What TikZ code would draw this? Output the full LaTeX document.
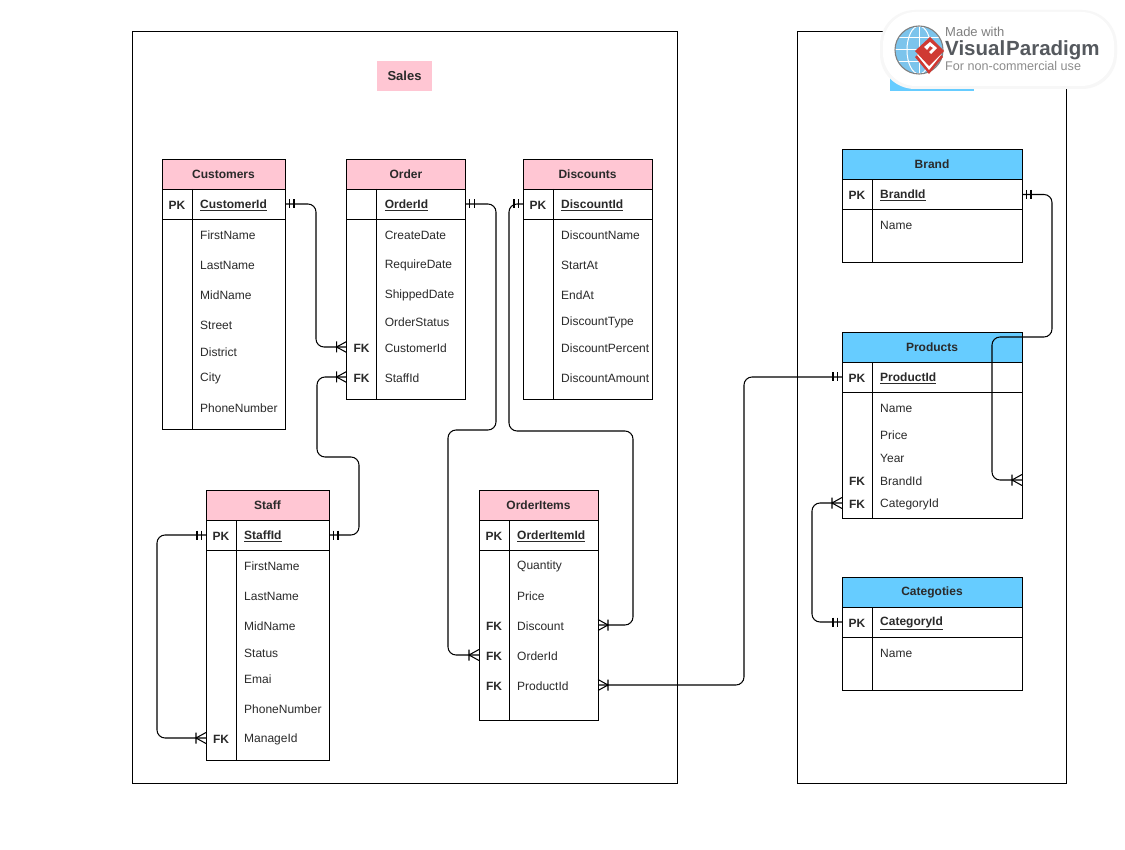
\documentclass[tikz,border=0pt]{standalone}
\usepackage{fontspec}
\setmainfont{Liberation Sans}
\definecolor{pinkhd}{HTML}{FFC6D3}
\definecolor{bluehd}{HTML}{66CCFF}
\definecolor{txt}{HTML}{2A2A2A}
\definecolor{vpred}{HTML}{CF3A33}
\definecolor{vpblue}{HTML}{7CC4EC}
\definecolor{vpgrey}{HTML}{55595E}
\newcommand\erfont{\fontsize{12}{14}\selectfont}
\tikzset{
  x=1pt,y=-1pt,
  outline/.style={draw=black,line width=0.9pt},
  box/.style={outline,inner sep=0pt,outer sep=0pt,anchor=north west},
  hdr/.style={box,minimum height=30pt,font=\erfont\bfseries,text=txt},
  fieldtext/.style={anchor=west,inner sep=0pt,yshift=-1pt,font=\erfont,text=txt},
  keytext/.style={inner sep=0pt,yshift=-1pt,font=\erfont\bfseries,text=txt},
  port/.style={inner sep=0pt,outer sep=0pt,minimum height=10pt},
  conn/.style={draw=black,line width=1.05pt,rounded corners=8pt},
  onemark/.pic={\draw[line width=1.05pt] (4.5,-4.5)--(4.5,4.5) (9,-4.5)--(9,4.5);},
  crowmark/.pic={\draw[line width=1.05pt] (0,-5.5)--(10,0)--(0,5.5) (10,-5.5)--(10,5.5);},
}
% name, x, width, y, total height, header colour, title, (PK row text)
\newcommand\ertable[8]{%
  \node[box,minimum width=#3pt,minimum height=#5pt] (#1) at (#2,#4) {};
  \node[hdr,fill=#6,minimum width=#3pt] (#1Head) at (#2,#4) {#7};
  \node[box,minimum width=#3pt,minimum height=30pt] (#1Key) at ($(#2,#4)+(0,30)$) {};
  \draw[outline] ($(#2,#4)+(30,30)$) -- ($(#2,#4)+(30,#5)$);
  \node[fieldtext] (#1KeyName) at ($(#2,#4)+(38,45)$) {\bfseries\underline{#8}};
}
% table x, y, key, field text
\newcommand\erfield[4]{%
  \node[keytext] at (#1+15,#2) {#3};
  \node[fieldtext] at (#1+38,#2) {#4};
}
% name, x, width, y
\newcommand\erport[4]{\node[port,minimum width=#3pt] (#1) at (#2+#3/2,#4) {};}
\usetikzlibrary{calc}
\begin{document}
\begin{tikzpicture}
\useasboundingbox (0,0) rectangle (1125,850);
\fill[white] (0,0) rectangle (1125,850);
% containers
\node[box,minimum width=545pt,minimum height=752pt] (salesArea) at (132,31) {};
\node[box,minimum width=269pt,minimum height=752pt] (prodArea) at (797,31) {};
\node[fill=pinkhd,inner sep=0pt,minimum width=55pt,minimum height=30pt,font=\fontsize{13}{15}\selectfont\bfseries,text=txt] (salesTitle) at (404.5,76) {Sales};
\node[fill=bluehd,inner sep=0pt,minimum width=84pt,minimum height=31pt,anchor=north west] (prodTitle) at (890,60) {};

% tables
\ertable{cust}{162}{123}{159}{270}{pinkhd}{Customers}{CustomerId}
\node[keytext] at (177,204) {PK};
\erfield{162}{234}{}{FirstName}
\erfield{162}{264}{}{LastName}
\erfield{162}{294}{}{MidName}
\erfield{162}{324}{}{Street}
\erfield{162}{351}{}{District}
\erfield{162}{377}{}{City}
\erfield{162}{407}{}{PhoneNumber}

\ertable{ord}{346.6}{118.5}{159}{240}{pinkhd}{Order}{OrderId}
\erfield{346.6}{234}{}{CreateDate}
\erfield{346.6}{264}{}{RequireDate}
\erfield{346.6}{294}{}{ShippedDate}
\erfield{346.6}{321}{}{OrderStatus}
\erfield{346.6}{347}{FK}{CustomerId}
\erfield{346.6}{377}{FK}{StaffId}
\erport{ordCust}{346.6}{118.5}{347}
\erport{ordStaff}{346.6}{118.5}{377}

\ertable{disc}{523}{129}{159}{240}{pinkhd}{Discounts}{DiscountId}
\node[keytext] at (538,204) {PK};
\erfield{523}{234}{}{DiscountName}
\erfield{523}{264}{}{StartAt}
\erfield{523}{294}{}{EndAt}
\erfield{523}{321}{}{DiscountType}
\erfield{523}{347}{}{DiscountPercent}
\erfield{523}{377}{}{DiscountAmount}

\ertable{staff}{206}{123}{490}{270}{pinkhd}{Staff}{StaffId}
\node[keytext] at (221,535) {PK};
\erfield{206}{565}{}{FirstName}
\erfield{206}{595}{}{LastName}
\erfield{206}{625}{}{MidName}
\erfield{206}{652}{}{Status}
\erfield{206}{678}{}{Emai}
\erfield{206}{708}{}{PhoneNumber}
\erfield{206}{738}{FK}{ManageId}
\erport{staffMgr}{206}{123}{738}

\ertable{item}{479}{119}{490}{230}{pinkhd}{OrderItems}{OrderItemId}
\node[keytext] at (494,535) {PK};
\erfield{479}{565}{}{Quantity}
\erfield{479}{595}{}{Price}
\erfield{479}{625}{FK}{Discount}
\erfield{479}{655}{FK}{OrderId}
\erfield{479}{685}{FK}{ProductId}
\erport{itemDisc}{479}{119}{625}
\erport{itemOrd}{479}{119}{655}
\erport{itemProd}{479}{119}{685}

\ertable{brand}{842}{180}{149.5}{112.5}{bluehd}{Brand}{BrandId}
\node[keytext] at (857,194.5) {PK};
\erfield{842}{224.5}{}{Name}

\ertable{prod}{842}{180}{332}{186}{bluehd}{Products}{ProductId}
\node[keytext] at (857,377) {PK};
\erfield{842}{407}{}{Name}
\erfield{842}{434}{}{Price}
\erfield{842}{457}{}{Year}
\erfield{842}{480}{FK}{BrandId}
\erfield{842}{503}{FK}{CategoryId}
\erport{prodBrand}{842}{180}{480}
\erport{prodCat}{842}{180}{503}

\ertable{cat}{842}{180}{577}{113}{bluehd}{Categoties}{CategoryId}
\node[keytext] at (857,622) {PK};
\erfield{842}{652}{}{Name}

% connectors
\draw[conn] (custKey.east) -| (316,280) |- (ordCust.west);
\draw[conn] (staffKey.east) -| (359,457) -| (317,420) |- (ordStaff.west);
\draw[conn] (ordKey.east) -| (496,430) -| (448,560) |- (itemOrd.west);
\draw[conn] (discKey.west) -| (509,431) -| (633,560) |- (itemDisc.east);
\draw[conn] (staffKey.west) -| (157,640) |- (staffMgr.west);
\draw[conn] (itemProd.east) -| (744,500) |- (prodKey.west);
\draw[conn] (brandKey.east) -| (1052,337) -| (992,420) |- (prodBrand.east);
\draw[conn] (catKey.west) -| (812,560) |- (prodCat.west);

% cardinality marks
\path (custKey.east) pic {onemark};
\path (ordKey.east) pic {onemark};
\path (staffKey.east) pic {onemark};
\path (brandKey.east) pic {onemark};
\path (discKey.west) pic[xscale=-1] {onemark};
\path (staffKey.west) pic[xscale=-1] {onemark};
\path (prodKey.west) pic[xscale=-1] {onemark};
\path (catKey.west) pic[xscale=-1] {onemark};
\path (ordCust.west) pic[xscale=-1] {crowmark};
\path (ordStaff.west) pic[xscale=-1] {crowmark};
\path (staffMgr.west) pic[xscale=-1] {crowmark};
\path (itemOrd.west) pic[xscale=-1] {crowmark};
\path (prodCat.west) pic[xscale=-1] {crowmark};
\path (itemDisc.east) pic {crowmark};
\path (itemProd.east) pic {crowmark};
\path (prodBrand.east) pic[xscale=-1] {crowmark};

% watermark
\fill[black!3,rounded corners=35pt] (880,10) rectangle (1117,89);
\fill[white,rounded corners=33pt] (883,12) rectangle (1114,86);
\fill[vpblue] (919,50) circle (24);
\begin{scope}
\clip (919,50) circle (24);
\draw[white,line width=1pt] (895,50)--(943,50) (895,38)--(943,38) (895,62)--(943,62) (919,26)--(919,74);
\draw[white,line width=1pt] (919,50) ellipse (12 and 24);
\end{scope}
\draw[black!50,line width=1.1pt] (919,50) circle (24);
\fill[vpred] (915,57)--(929,43)--(943,57)--(929,74)--cycle;
\fill[white] (917,55)--(929,43)--(941,55)--(929,70)--cycle;
\fill[vpred] (915,51)--(930,37)--(944,51)--(929,66)--cycle;
\fill[white] (924,47)--(930,42)--(937,48)--(931,54)--(929,52)--(933,48)--(930,46)--(927,50)--cycle;
\node[anchor=west,inner sep=0pt,text=black!50,font=\fontsize{13}{15}\selectfont] (vp1) at (945,32) {Made with};
\node[anchor=west,inner sep=0pt,text=vpgrey,font=\fontsize{20.5}{24}\selectfont\bfseries] (vp2) at (945,50) {Visual\kern1pt Paradigm};
\node[anchor=west,inner sep=0pt,text=black!45,font=\fontsize{12.6}{15}\selectfont] (vp3) at (945,66) {For non-commercial use};
\end{tikzpicture}
\end{document}
